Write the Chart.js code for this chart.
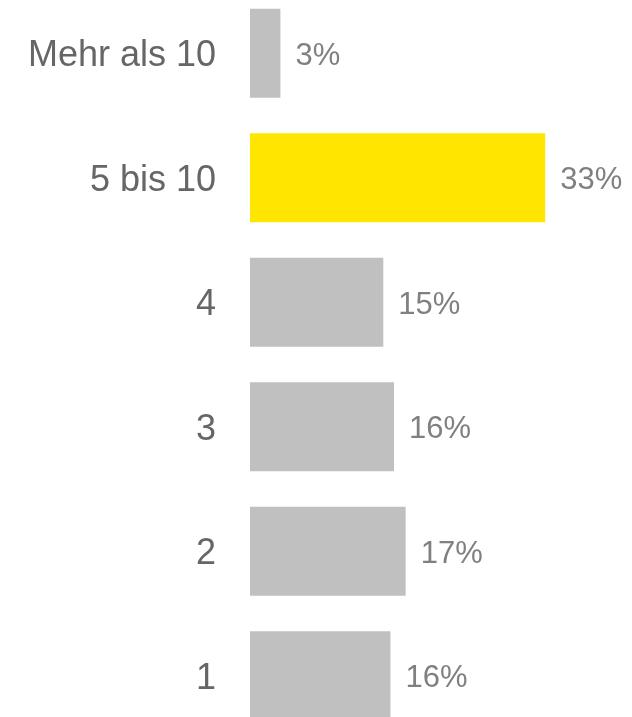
<!DOCTYPE html>
<html>
<head>
<meta charset="utf-8">
<script src="https://cdn.jsdelivr.net/npm/chart.js@4"></script>
<style>
  html, body { margin: 0; padding: 0; background: #fff; overflow: hidden; }
  #wrap { position: absolute; left: 0; top: -9px; width: 632px; height: 747px; }
</style>
</head>
<body>
<div id="wrap"><canvas id="barChart" width="632" height="747"></canvas></div>
<script>
const categories = ['Mehr als 10', '5 bis 10', '4', '3', '2', '1'];
const shares = [3.4, 33, 14.9, 16.1, 17.4, 15.7];
const barColors = ['#c0c0c0', '#ffe600', '#c0c0c0', '#c0c0c0', '#c0c0c0', '#c0c0c0'];

// draws the percent text right of each bar
const valueLabels = {
    id: 'valueLabels',
    afterDatasetsDraw(chart) {
        const ctx = chart.ctx;
        const meta = chart.getDatasetMeta(0);
        ctx.save();
        ctx.font = '31px "Liberation Sans", Arial, sans-serif';
        ctx.fillStyle = '#808080';
        ctx.textAlign = 'left';
        ctx.textBaseline = 'middle';
        meta.data.forEach((bar, i) => {
            ctx.fillText(Math.round(shares[i]) + '%', bar.x + 15, bar.y + 3);
        });
        ctx.restore();
    }
};

const ctx = document.getElementById('barChart').getContext('2d');

new Chart(ctx, {
    type: 'bar',
    data: {
        labels: categories,
        datasets: [{
            data: shares,
            backgroundColor: barColors,
            borderWidth: 0,
            barPercentage: 0.715,
            categoryPercentage: 1
        }]
    },
    options: {
        indexAxis: 'y',
        responsive: false,
        animation: false,
        layout: { padding: 0 },
        plugins: {
            legend: { display: false },
            tooltip: { enabled: false }
        },
        scales: {
            x: {
                display: false,
                min: 0,
                max: 42.7
            },
            y: {
                grid: { display: false, drawTicks: false },
                border: { display: false },
                ticks: {
                    color: '#666666',
                    padding: 34,
                    labelOffset: 3,
                    font: { family: '"Liberation Sans", Arial, sans-serif', size: 36 }
                },
                afterFit(scale) {
                    scale.width = 250;
                    scale.paddingTop = 0;
                    scale.paddingBottom = 0;
                }
            }
        }
    },
    plugins: [valueLabels]
});
</script>
</body>
</html>
